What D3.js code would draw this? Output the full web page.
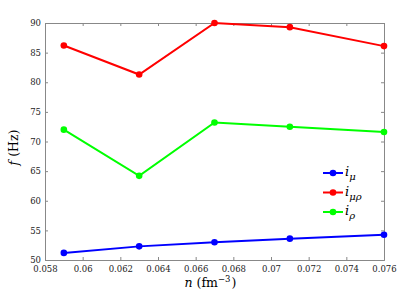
<!DOCTYPE html>
<html>
<head>
<meta charset="utf-8">
<script src="https://cdn.jsdelivr.net/npm/d3@7"></script>
<style>
  body { margin: 0; background: #fff; }
</style>
</head>
<body>
<div id="chart"></div>
<script>
const densities = [0.059, 0.063, 0.067, 0.071, 0.076];
const iMu = [51.2, 52.3, 53.0, 53.6, 54.25];
const iMuRho = [86.2, 81.3, 90.0, 89.3, 86.1];
const iRho = [72.0, 64.2, 73.2, 72.5, 71.6];
const xTicks = [0.058, 0.06, 0.062, 0.064, 0.066, 0.068, 0.07, 0.072, 0.074, 0.076];
const yTicks = [50, 55, 60, 65, 70, 75, 80, 85, 90];

const series = [
      {name: "μ", color: "#0000ff", values: iMu},
      {name: "μρ", color: "#ff0000", values: iMuRho},
      {name: "ρ", color: "#00ff00", values: iRho}
];

const width = 415, height = 294;
const margin = {left: 45, right: 31, top: 23, bottom: 34};
const serif = "'DejaVu Serif', 'Liberation Serif', serif";

const svg = d3.select("#chart").append("svg")
      .attr("width", width)
      .attr("height", height);

const x = d3.scaleLinear()
      .domain([0.058, 0.076])
      .range([margin.left, width - margin.right]);

const y = d3.scaleLinear()
      .domain([50, 90])
      .range([height - margin.bottom, margin.top]);

const axisColor = "#888";
const tickLen = 3;

// frame ticks pointing inward, labels on bottom / left only
function styleAxis(g) {
      g.attr("font-family", serif);
      g.select(".domain").attr("stroke", axisColor).attr("stroke-width", 1);
      g.selectAll(".tick line").attr("stroke", axisColor);
      g.selectAll(".tick text").attr("fill", "#222").style("font-size", "8.5px");
}

svg.append("g")
      .attr("transform", `translate(0,${y(50)})`)
      .call(d3.axisBottom(x).tickValues(xTicks).tickSize(-tickLen).tickPadding(6).tickFormat(d => String(+d.toFixed(3))))
      .call(styleAxis);

svg.append("g")
      .attr("transform", `translate(0,${y(90)})`)
      .call(d3.axisTop(x).tickValues(xTicks).tickSize(-tickLen).tickFormat(""))
      .call(styleAxis);

svg.append("g")
      .attr("transform", `translate(${x(0.058)},0)`)
      .call(d3.axisLeft(y).tickValues(yTicks).tickSize(-tickLen).tickPadding(4))
      .call(styleAxis);

svg.append("g")
      .attr("transform", `translate(${x(0.076)},0)`)
      .call(d3.axisRight(y).tickValues(yTicks).tickSize(-tickLen).tickFormat(""))
      .call(styleAxis);

const line = d3.line()
      .x((d, i) => x(densities[i]))
      .y(d => y(d));

series.forEach(s => {
      svg.append("path")
            .datum(s.values)
            .attr("fill", "none")
            .attr("stroke", s.color)
            .attr("stroke-width", 2)
            .attr("d", line);
      svg.selectAll(null)
            .data(s.values)
            .enter().append("circle")
            .attr("cx", (d, i) => x(densities[i]))
            .attr("cy", d => y(d))
            .attr("r", 3.3)
            .attr("fill", s.color);
});

// legend
const legend = svg.append("g").attr("transform", "translate(323,173)");
series.forEach((s, i) => {
      const g = legend.append("g").attr("transform", `translate(0,${i * 19.5})`);
      g.append("line").attr("x1", 0).attr("x2", 20).attr("stroke", s.color).attr("stroke-width", 2);
      g.append("circle").attr("cx", 10).attr("r", 3.3).attr("fill", s.color);
      const t = g.append("text").attr("x", 22).attr("y", 3)
            .style("font-family", serif).style("font-size", "13px").style("font-style", "italic");
      t.append("tspan").text("i");
      t.append("tspan").attr("dy", 4).style("font-size", "10px").text(s.name);
});

// axis labels
const xl = svg.append("text")
      .attr("x", (x(0.058) + x(0.076)) / 2 - 4)
      .attr("y", 287)
      .attr("text-anchor", "middle")
      .style("font-family", serif)
      .style("font-size", "12.5px");
xl.append("tspan").style("font-style", "italic").text("n");
xl.append("tspan").text(" (fm");
xl.append("tspan").attr("dy", -5).style("font-size", "8.5px").text("−3");
xl.append("tspan").attr("dy", 5).attr("dx", 1).text(")");

const yl = svg.append("text")
      .attr("transform", `translate(18,${(y(50) + y(90)) / 2 + 6}) rotate(-90)`)
      .attr("text-anchor", "middle")
      .style("font-family", serif)
      .style("font-size", "12.5px");
yl.append("tspan").style("font-style", "italic").text("f");
yl.append("tspan").text(" (Hz)");
</script>
</body>
</html>
